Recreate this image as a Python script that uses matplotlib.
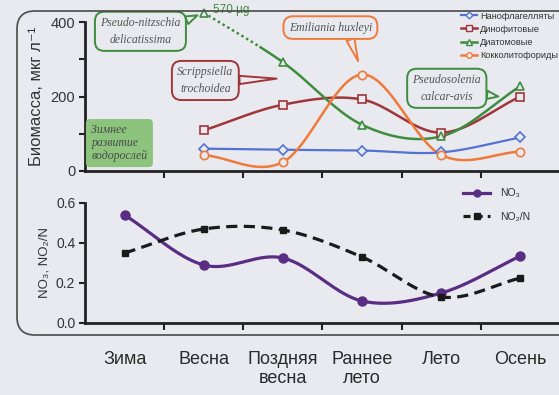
import numpy as np
import matplotlib.pyplot as plt
from matplotlib.lines import Line2D
from matplotlib.patches import FancyBboxPatch
from matplotlib.transforms import IdentityTransform

plt.rcParams['font.family'] = ['Liberation Sans', 'DejaVu Sans']

# seasons on the shared x axis
seasons = ['Зима', 'Весна', 'Поздняя\nвесна', 'Раннее\nлето', 'Лето', 'Осень']

# phytoplankton biomass, µg/l (no winter sample)
bio_x = [1, 2, 3, 4, 5]
nanoflag = [60, 57, 55, 50, 90]
dinophyt = [109, 178, 192, 103, 200]
diatoms = [570, 292, 124, 93, 228]
coccolith = [43, 24, 259, 43, 52]

# nutrients
nut_x = [0, 1, 2, 3, 4, 5]
no3 = [0.54, 0.29, 0.325, 0.11, 0.15, 0.335]
no2n = [0.35, 0.47, 0.465, 0.33, 0.13, 0.225]

BG = '#e8eaef'
C_BLUE = '#5472cf'
C_RED = '#a0363a'
C_GREEN = '#3e8c3e'
C_ORANGE = '#ef7a3a'
C_PURPLE = '#5a2d85'
SERIF = 'Liberation Serif'


def smooth(x, y, n=40):
    # Catmull-Rom curve through the points, like spreadsheet "smoothed lines"
    x = np.asarray(x, float)
    y = np.asarray(y, float)
    px = np.r_[2 * x[0] - x[1], x, 2 * x[-1] - x[-2]]
    py = np.r_[2 * y[0] - y[1], y, 2 * y[-1] - y[-2]]
    t = np.linspace(0, 1, n)
    xs, ys = [], []
    for i in range(1, len(px) - 2):
        for p, out in ((px, xs), (py, ys)):
            p0, p1, p2, p3 = p[i - 1], p[i], p[i + 1], p[i + 2]
            out.append(0.5 * (2 * p1 + (-p0 + p2) * t
                              + (2 * p0 - 5 * p1 + 4 * p2 - p3) * t ** 2
                              + (-p0 + 3 * p1 - 3 * p2 + p3) * t ** 3))
    return np.concatenate(xs), np.concatenate(ys)


fig = plt.figure(figsize=(5.59, 3.95), dpi=100, facecolor=BG)

# rounded frame around both panels
frame = FancyBboxPatch((17, 60), 620, 324, boxstyle='round,pad=0,rounding_size=18',
                       transform=IdentityTransform(), fc='none', ec='#4a4a4a', lw=1.2)
fig.patches.append(frame)

ax1 = fig.add_axes([85 / 559, 1 - 171 / 395, 475 / 559, 149 / 395])
ax2 = fig.add_axes([85 / 559, 1 - 323 / 395, 475 / 559, 120 / 395])

for ax in (ax1, ax2):
    ax.set_facecolor('none')
    ax.set_xlim(-0.5, 5.5)
    for s in ('top', 'right'):
        ax.spines[s].set_visible(False)
    for s in ('left', 'bottom'):
        ax.spines[s].set_linewidth(2)
        ax.spines[s].set_color('#222222')
    ax.set_xticks([0.5, 1.5, 2.5, 3.5, 4.5])
    ax.tick_params(axis='x', which='major', length=5, width=1.5, labelbottom=False,
                   color='#222222')
    ax.tick_params(axis='y', length=4, width=1.5, color='#222222', labelsize=10.5,
                   labelcolor='#333333', pad=3)

# ---- top panel: biomass
ax1.set_ylim(0, 400)
ax1.set_yticks([0, 200, 400])
ax1.set_yticks([100, 300], minor=True)
ax1.tick_params(axis='y', which='minor', length=4, width=1.5, color='#222222')
ax1.set_ylabel('Биомасса, мкг л⁻¹', fontsize=12, color='#333333', labelpad=5)

mk = dict(mfc=BG, mew=1.2, ms=6, ls='none', clip_on=False, zorder=4)

sx, sy = smooth(bio_x, nanoflag)
ax1.plot(sx, sy, color=C_BLUE, lw=1.6, zorder=3)
ax1.plot(bio_x, nanoflag, marker='D', color=C_BLUE, **{**mk, 'ms': 5})

sx, sy = smooth(bio_x, dinophyt)
ax1.plot(sx, sy, color=C_RED, lw=1.8, zorder=3)
ax1.plot(bio_x, dinophyt, marker='s', color=C_RED, **mk)

# the spring diatom peak is off scale: put its marker just above the axis
dia_shown = [min(v, 425) for v in diatoms]
sx, sy = smooth(bio_x, dia_shown)
brk = sx < 1.7
ax1.plot(sx[brk], sy[brk], color=C_GREEN, lw=1.8, ls=(0, (1, 1.2)), clip_on=False, zorder=3)
ax1.plot(sx[~brk], sy[~brk], color=C_GREEN, lw=1.8, clip_on=False, zorder=3)
ax1.plot(bio_x, dia_shown, marker='^', color=C_GREEN, **mk)
ax1.text(bio_x[0] + 0.12, dia_shown[0] + 6, f'{diatoms[0]} µg', color=C_GREEN,
         fontsize=8.5, va='center', ha='left', clip_on=False)

sx, sy = smooth(bio_x, coccolith)
ax1.plot(sx, sy, color=C_ORANGE, lw=1.8, zorder=3)
ax1.plot(bio_x, coccolith, marker='o', color=C_ORANGE, **mk)

# species callouts
callouts = [
    ('Pseudo-nitzschia\ndelicatissima', (0.2, 375), (0.92, 418), C_GREEN, (0.85, 0.6)),
    ('Scrippsiella\ntrochoidea', (1.02, 243), (1.92, 248), C_RED, (0.85, 0.5)),
    ('Emiliania huxleyi', (2.6, 385), (2.95, 295), C_ORANGE, (0.7, 0.3)),
    ('Pseudosolenia\ncalcar-avis', (4.07, 222), (4.72, 200), C_GREEN, (0.85, 0.35)),
]
for txt, pos, tip, col, rel in callouts:
    ax1.annotate(txt, xy=tip, xytext=pos, ha='center', va='center', fontsize=8.5,
                 family=SERIF, style='italic', color='#555555', annotation_clip=False,
                 linespacing=1.5, zorder=6,
                 bbox=dict(boxstyle='round,pad=0.45,rounding_size=0.8', fc=BG, ec=col, lw=1.4),
                 arrowprops=dict(arrowstyle='wedge,tail_width=0.7,shrink_factor=0.5',
                                 fc=BG, ec=col, lw=1.4, relpos=rel,
                                 shrinkA=0, shrinkB=0))

ax1.text(-0.42, 75, 'Зимнее\nразвитие\nводорослей', fontsize=8.5, family=SERIF,
         style='italic', color='#4a4a4a', ha='left', va='center', linespacing=1.05,
         zorder=6, bbox=dict(boxstyle='round,pad=0.4,rounding_size=0.3',
                             fc='#8cc47e', ec='#8cc47e'))

handles = [
    Line2D([], [], color=C_BLUE, marker='D', ms=3.5, mfc=BG, lw=1.6),
    Line2D([], [], color=C_RED, marker='s', ms=4, mfc=BG, lw=1.8),
    Line2D([], [], color=C_GREEN, marker='^', ms=4, mfc=BG, lw=1.8),
    Line2D([], [], color=C_ORANGE, marker='o', ms=4, mfc=BG, lw=1.8),
]
fig.legend(handles, ['Нанофлагелляты', 'Динофитовые', 'Диатомовые', 'Кокколитофориды'],
           loc='upper left', bbox_to_anchor=(456 / 559, 1 - 7 / 395), frameon=False,
           fontsize=6.6, handlelength=1.8, handletextpad=0.3, labelspacing=0.45,
           borderpad=0, labelcolor='#333333')

# ---- bottom panel: nutrients
ax2.set_ylim(0, 0.6)
ax2.set_yticks([0, 0.2, 0.4, 0.6])
ax2.set_yticklabels(['0.0', '0.2', '0.4', '0.6'])
ax2.tick_params(axis='y', labelsize=10)
ax2.set_ylabel('NO₃, NO₂/N', fontsize=9.5, color='#333333', labelpad=4)

sx, sy = smooth(nut_x, no3)
ax2.plot(sx, sy, color=C_PURPLE, lw=2.3, zorder=3)
ax2.plot(nut_x, no3, 'o', color=C_PURPLE, ms=6.5, zorder=4, clip_on=False)

sx, sy = smooth(nut_x, no2n)
ax2.plot(sx, sy, color='#1a1a1a', lw=2.3, ls=(0, (3.5, 2)), zorder=3)
ax2.plot(nut_x, no2n, 's', color='#1a1a1a', ms=5, zorder=4, clip_on=False)

nut_handles = [
    Line2D([], [], color=C_PURPLE, lw=2.3, marker='o', ms=5),
    Line2D([], [], color='#1a1a1a', lw=2.3, ls=(0, (2.2, 1.6)), marker='s', ms=4.5),
]
fig.legend(nut_handles, ['NO₃', 'NO₂/N'], loc='upper left',
           bbox_to_anchor=(458 / 559, 1 - 183 / 395), frameon=False, fontsize=7.5,
           handlelength=2.6, handletextpad=0.9, labelspacing=1.3, borderpad=0,
           labelcolor='#333333')

ax2.set_xticks(range(len(seasons)), minor=True)
ax2.set_xticklabels(seasons, minor=True, fontsize=13, color='#2a2a2a', linespacing=1.15)
ax2.tick_params(axis='x', which='minor', length=0, pad=20)

fig.savefig('out.png', dpi=100, facecolor=BG)
